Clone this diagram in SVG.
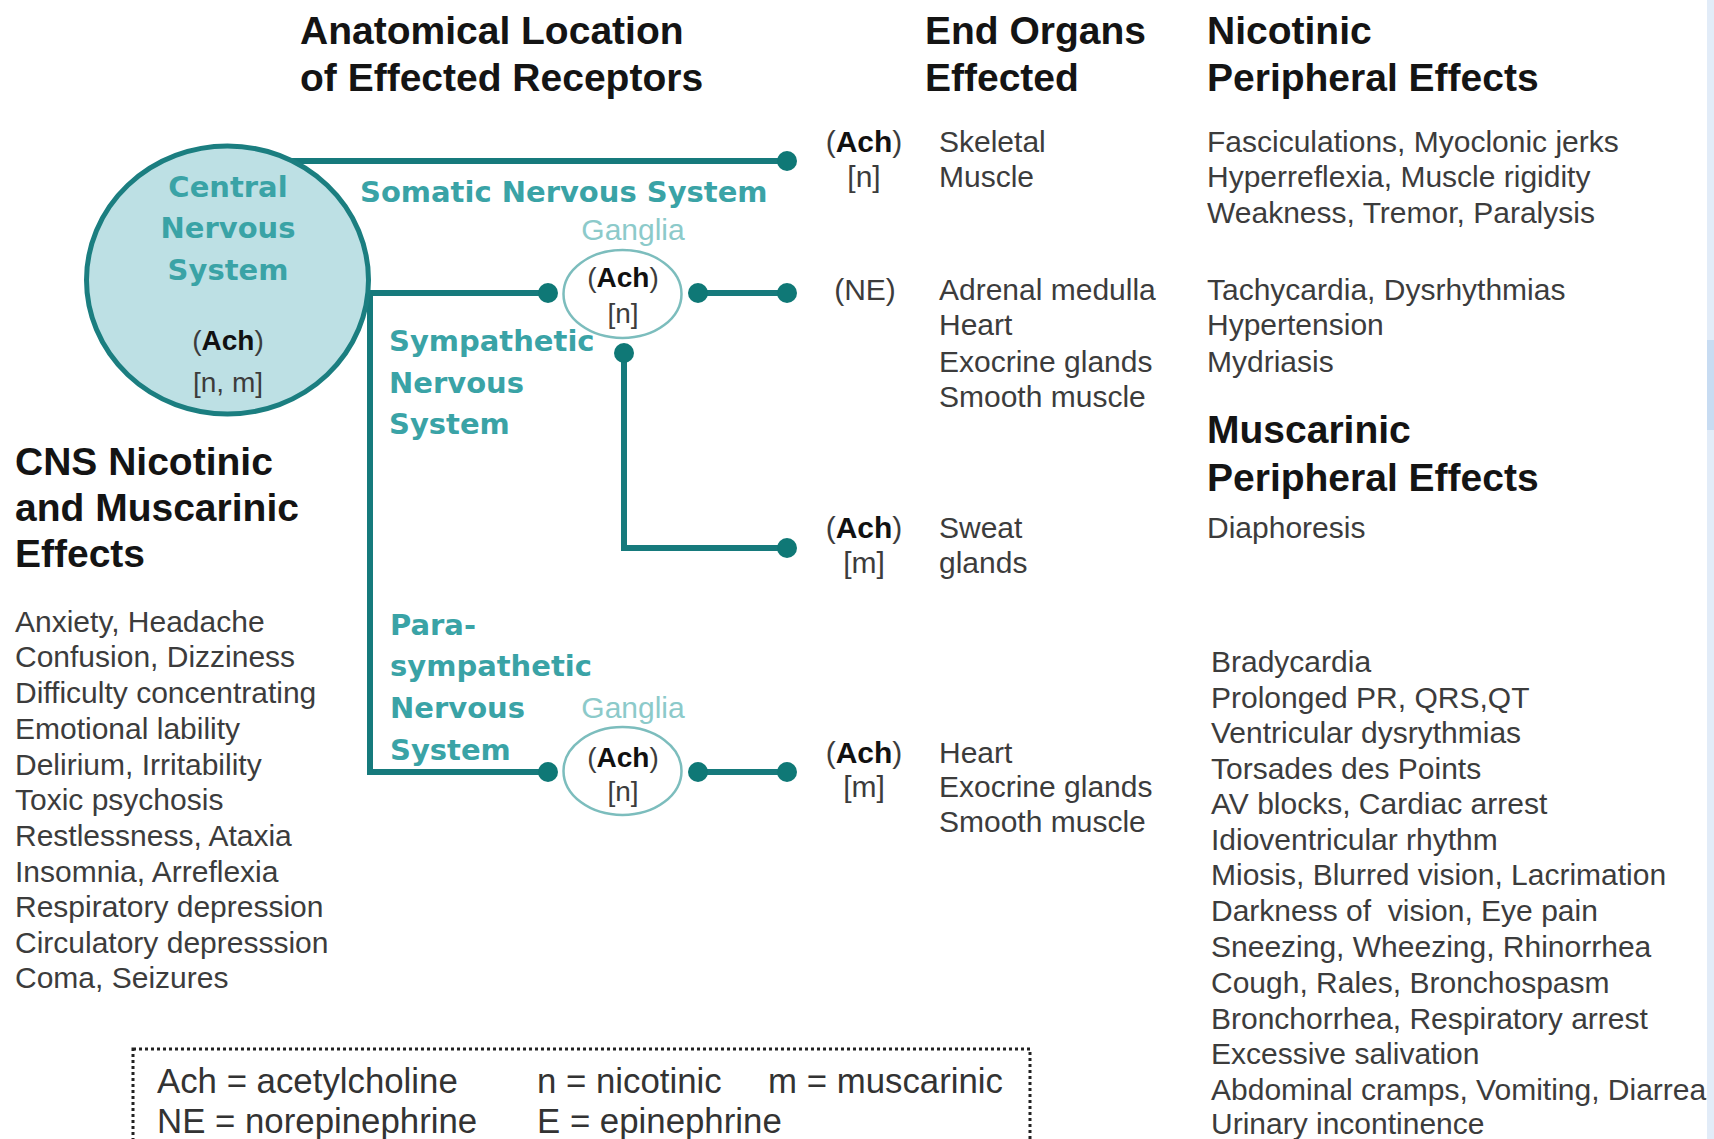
<svg xmlns="http://www.w3.org/2000/svg" width="1714" height="1139" viewBox="0 0 1714 1139">
<style>
.hd{font-family:"Liberation Sans",Arial,sans-serif;font-weight:bold;font-size:39px;fill:#141414}
.tx{font-family:"Liberation Sans",Arial,sans-serif;font-size:30px;fill:#3c3c3c}
.rc{font-family:"Liberation Sans",Arial,sans-serif;font-size:30px;fill:#3c3c3c;text-anchor:middle}
.rs{font-family:"Liberation Sans",Arial,sans-serif;font-size:28px;fill:#3c3c3c;text-anchor:middle}
.b{font-weight:bold;fill:#111}
.tl{font-family:"DejaVu Sans",Verdana,sans-serif;font-weight:bold;font-size:29px;fill:#3aa3a6}
.gg{font-family:"Liberation Sans",Arial,sans-serif;font-size:30px;fill:#8ccaca;text-anchor:middle}
.lg{font-family:"Liberation Sans",Arial,sans-serif;font-size:34.8px;fill:#333}
.ln{fill:none;stroke:#167a7c;stroke-width:6}
.dot{fill:#0f7876}
.gang{fill:#fff;stroke:#7cbdbd;stroke-width:2.5}
</style>
<rect x="0" y="0" width="1714" height="1139" fill="#fff"/>
<rect x="1707" y="0" width="7" height="1139" fill="#e2ecf8"/>
<rect x="1707" y="340" width="7" height="90" fill="#c8dcf2"/>

<g id="headers">
<text class="hd" x="300" y="44">Anatomical Location</text>
<text class="hd" x="300" y="91">of Effected Receptors</text>
<text class="hd" x="925" y="44">End Organs</text>
<text class="hd" x="925" y="91">Effected</text>
<text class="hd" x="1207" y="44">Nicotinic</text>
<text class="hd" x="1207" y="91">Peripheral Effects</text>
<text class="hd" x="1207" y="443">Muscarinic</text>
<text class="hd" x="1207" y="491">Peripheral Effects</text>
<text class="hd" x="15" y="475">CNS Nicotinic</text>
<text class="hd" x="15" y="521">and Muscarinic</text>
<text class="hd" x="15" y="567">Effects</text>
</g>

<g id="connectors">
<path class="ln" d="M292,161 H787"/>
<path class="ln" d="M368,293 H548"/>
<path class="ln" d="M370,290 V772 H548"/>
<path class="ln" d="M698,293 H787"/>
<path class="ln" d="M624,353 V548 H787"/>
<path class="ln" d="M698,772 H787"/>
<circle class="dot" cx="787" cy="161" r="10"/>
<circle class="dot" cx="548" cy="293" r="10"/>
<circle class="dot" cx="698" cy="293" r="10"/>
<circle class="dot" cx="787" cy="293" r="10"/>
<circle class="dot" cx="624" cy="353" r="10"/>
<circle class="dot" cx="787" cy="548" r="10"/>
<circle class="dot" cx="548" cy="772" r="10"/>
<circle class="dot" cx="698" cy="772" r="10"/>
<circle class="dot" cx="787" cy="772" r="10"/>
</g>

<g id="cns">
<ellipse cx="227.5" cy="280" rx="141" ry="134" fill="#bde0e4" stroke="#1b7e80" stroke-width="5"/>
<text class="tl" x="228" y="197" text-anchor="middle">Central</text>
<text class="tl" x="228" y="238" text-anchor="middle">Nervous</text>
<text class="tl" x="228" y="280" text-anchor="middle">System</text>
<text class="rs" x="228" y="350">(<tspan class="b">Ach</tspan>)</text>
<text class="rs" x="228" y="392">[n, m]</text>
</g>

<g id="somatic-label">
<text class="tl" x="360" y="202">Somatic Nervous System</text>
</g>

<g id="sympathetic-label">
<text class="tl" x="389" y="351">Sympathetic</text>
<text class="tl" x="389" y="393">Nervous</text>
<text class="tl" x="389" y="434">System</text>
</g>

<g id="parasympathetic-label">
<text class="tl" x="390" y="635">Para-</text>
<text class="tl" x="390" y="676">sympathetic</text>
<text class="tl" x="390" y="718">Nervous</text>
<text class="tl" x="390" y="760">System</text>
</g>

<g id="sympathetic-ganglion">
<text class="gg" x="633" y="240">Ganglia</text>
<ellipse class="gang" cx="622.5" cy="294" rx="59" ry="44"/>
<text class="rs" x="623" y="287">(<tspan class="b">Ach</tspan>)</text>
<text class="rs" x="623" y="323">[n]</text>
</g>

<g id="parasympathetic-ganglion">
<text class="gg" x="633" y="718">Ganglia</text>
<ellipse class="gang" cx="622.5" cy="771" rx="59" ry="44"/>
<text class="rs" x="623" y="767">(<tspan class="b">Ach</tspan>)</text>
<text class="rs" x="623" y="801">[n]</text>
</g>

<g id="receptors">
<text class="rc" x="864" y="152">(<tspan class="b">Ach</tspan>)</text>
<text class="rc" x="864" y="187">[n]</text>
<text class="rc" x="865" y="300">(NE)</text>
<text class="rc" x="864" y="538">(<tspan class="b">Ach</tspan>)</text>
<text class="rc" x="864" y="573">[m]</text>
<text class="rc" x="864" y="763">(<tspan class="b">Ach</tspan>)</text>
<text class="rc" x="864" y="797">[m]</text>
</g>

<g id="end-organs">
<text class="tx" x="939" y="152">Skeletal</text>
<text class="tx" x="939" y="187">Muscle</text>
<text class="tx" x="939" y="300">Adrenal medulla</text>
<text class="tx" x="939" y="335">Heart</text>
<text class="tx" x="939" y="372">Exocrine glands</text>
<text class="tx" x="939" y="407">Smooth muscle</text>
<text class="tx" x="939" y="538">Sweat</text>
<text class="tx" x="939" y="573">glands</text>
<text class="tx" x="939" y="763">Heart</text>
<text class="tx" x="939" y="797">Exocrine glands</text>
<text class="tx" x="939" y="832">Smooth muscle</text>
</g>

<g id="nicotinic-effects">
<text class="tx" x="1207" y="152">Fasciculations, Myoclonic jerks</text>
<text class="tx" x="1207" y="187">Hyperreflexia, Muscle rigidity</text>
<text class="tx" x="1207" y="223">Weakness, Tremor, Paralysis</text>
<text class="tx" x="1207" y="300">Tachycardia, Dysrhythmias</text>
<text class="tx" x="1207" y="335">Hypertension</text>
<text class="tx" x="1207" y="372">Mydriasis</text>
</g>

<g id="muscarinic-effects">
<text class="tx" x="1207" y="538">Diaphoresis</text>
<text class="tx" x="1211" y="672">Bradycardia</text>
<text class="tx" x="1211" y="708">Prolonged PR, QRS,QT</text>
<text class="tx" x="1211" y="743">Ventricular dysrythmias</text>
<text class="tx" x="1211" y="779">Torsades des Points</text>
<text class="tx" x="1211" y="814">AV blocks, Cardiac arrest</text>
<text class="tx" x="1211" y="850">Idioventricular rhythm</text>
<text class="tx" x="1211" y="885">Miosis, Blurred vision, Lacrimation</text>
<text class="tx" x="1211" y="921">Darkness of&#160; vision, Eye pain</text>
<text class="tx" x="1211" y="957">Sneezing, Wheezing, Rhinorrhea</text>
<text class="tx" x="1211" y="993">Cough, Rales, Bronchospasm</text>
<text class="tx" x="1211" y="1029">Bronchorrhea, Respiratory arrest</text>
<text class="tx" x="1211" y="1064">Excessive salivation</text>
<text class="tx" x="1211" y="1100">Abdominal cramps, Vomiting, Diarrea</text>
<text class="tx" x="1211" y="1134">Urinary incontinence</text>
</g>

<g id="cns-effects">
<text class="tx" x="15" y="632">Anxiety, Headache</text>
<text class="tx" x="15" y="667">Confusion, Dizziness</text>
<text class="tx" x="15" y="703">Difficulty concentrating</text>
<text class="tx" x="15" y="739">Emotional lability</text>
<text class="tx" x="15" y="775">Delirium, Irritability</text>
<text class="tx" x="15" y="810">Toxic psychosis</text>
<text class="tx" x="15" y="846">Restlessness, Ataxia</text>
<text class="tx" x="15" y="882">Insomnia, Arreflexia</text>
<text class="tx" x="15" y="917">Respiratory depression</text>
<text class="tx" x="15" y="953">Circulatory depresssion</text>
<text class="tx" x="15" y="988">Coma, Seizures</text>
</g>

<g id="legend">
<rect x="133" y="1049" width="897" height="130" fill="none" stroke="#222" stroke-width="3" stroke-dasharray="3 3"/>
<text class="lg" x="157" y="1093">Ach = acetylcholine</text>
<text class="lg" x="537" y="1093">n = nicotinic</text>
<text class="lg" x="768" y="1093">m = muscarinic</text>
<text class="lg" x="157" y="1133">NE = norepinephrine</text>
<text class="lg" x="537" y="1133">E = epinephrine</text>
</g>
</svg>
